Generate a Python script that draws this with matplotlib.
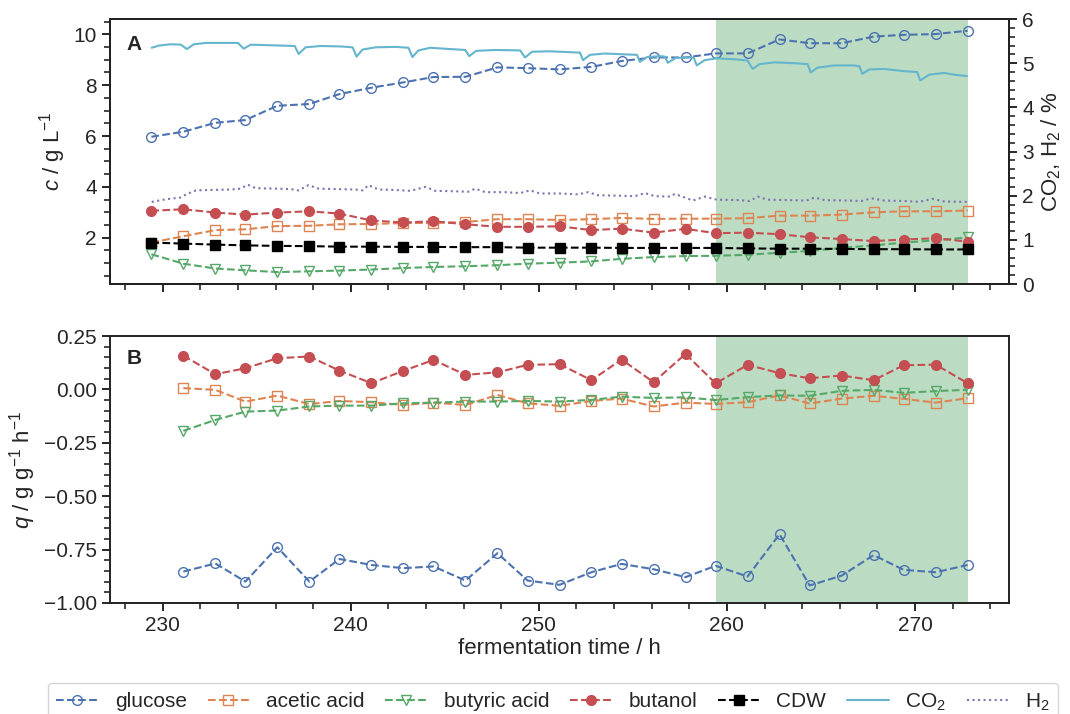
import matplotlib
matplotlib.use('Agg')
import matplotlib.pyplot as plt
import seaborn as sns
from matplotlib.ticker import AutoMinorLocator

sns.set_theme(style='ticks', palette='deep')
plt.rcParams['font.family'] = ['Liberation Sans', 'DejaVu Sans']
plt.rcParams['mathtext.fontset'] = 'custom'
plt.rcParams['mathtext.rm'] = 'Liberation Sans'
plt.rcParams['mathtext.it'] = 'Liberation Sans:italic'
plt.rcParams['mathtext.bf'] = 'Liberation Sans:bold'
plt.rcParams['axes.linewidth'] = 1.4
plt.rcParams['xtick.major.width'] = 1.4
plt.rcParams['ytick.major.width'] = 1.4
plt.rcParams['xtick.minor.width'] = 1.2
plt.rcParams['ytick.minor.width'] = 1.2
plt.rcParams['xtick.major.size'] = 6
plt.rcParams['ytick.major.size'] = 6
plt.rcParams['xtick.minor.size'] = 4
plt.rcParams['ytick.minor.size'] = 4
plt.rcParams['axes.edgecolor'] = '#222222'

pal = sns.color_palette('deep')

# sampling times (h)
t = [229.4, 231.1, 232.8, 234.4, 236.1, 237.8, 239.4, 241.1, 242.8, 244.4,
     246.1, 247.8, 249.4, 251.1, 252.8, 254.4, 256.1, 257.8, 259.4, 261.1,
     262.8, 264.4, 266.1, 267.8, 269.4, 271.1, 272.8]

# concentrations c (g/L)
glucose_c = [5.97, 6.17, 6.52, 6.63, 7.19, 7.26, 7.65, 7.90, 8.11, 8.32,
             8.33, 8.70, 8.67, 8.62, 8.72, 8.95, 9.09, 9.09, 9.25, 9.25,
             9.80, 9.65, 9.65, 9.91, 9.98, 10.01, 10.14]
acetic_c = [1.81, 2.06, 2.30, 2.33, 2.46, 2.47, 2.53, 2.54, 2.58, 2.58,
            2.62, 2.73, 2.73, 2.70, 2.73, 2.78, 2.74, 2.75, 2.75, 2.77,
            2.87, 2.87, 2.91, 3.00, 3.04, 3.04, 3.07]
butyric_c = [1.35, 0.98, 0.79, 0.72, 0.65, 0.68, 0.71, 0.75, 0.81, 0.85,
             0.88, 0.92, 0.98, 1.02, 1.07, 1.17, 1.24, 1.28, 1.29, 1.33,
             1.41, 1.48, 1.60, 1.70, 1.81, 1.90, 2.01]
butanol_c = [3.06, 3.12, 2.99, 2.91, 2.99, 3.04, 2.95, 2.68, 2.60, 2.65,
             2.53, 2.43, 2.43, 2.45, 2.30, 2.36, 2.20, 2.35, 2.18, 2.20,
             2.14, 2.02, 1.95, 1.87, 1.93, 1.98, 1.85]
cdw_c = [1.81, 1.77, 1.73, 1.70, 1.68, 1.67, 1.65, 1.65, 1.64, 1.64,
         1.63, 1.63, 1.61, 1.61, 1.61, 1.60, 1.60, 1.60, 1.60, 1.58,
         1.57, 1.57, 1.56, 1.55, 1.55, 1.54, 1.54]

# off-gas (%)
co2_t = [229.42, 229.80, 230.44, 230.97, 231.29, 231.66, 232.30, 233.09, 234.00, 234.31,
         234.68, 235.48, 236.28, 237.02, 237.23, 237.60, 238.40, 239.46, 240.10, 240.31,
         240.63, 241.32, 242.38, 243.07, 243.28, 243.60, 244.23, 245.30, 246.09, 246.30,
         246.67, 247.68, 249.01, 249.27, 249.64, 250.60, 251.66, 252.19, 252.35, 252.72,
         253.52, 254.58, 255.22, 255.37, 255.75, 256.44, 256.70, 256.86, 257.28, 258.03,
         258.24, 258.40, 258.82, 259.46, 260.41, 261.10, 261.37, 261.74, 262.54, 263.60,
         264.29, 264.45, 264.82, 265.72, 266.78, 267.05, 267.20, 267.58, 268.37, 269.43,
         270.12, 270.28, 270.76, 271.55, 272.08, 272.77]
co2 = [5.35, 5.40, 5.43, 5.42, 5.32, 5.43, 5.46, 5.46, 5.46, 5.33,
       5.42, 5.41, 5.40, 5.39, 5.21, 5.36, 5.39, 5.38, 5.36, 5.15,
       5.31, 5.36, 5.37, 5.35, 5.14, 5.29, 5.35, 5.32, 5.30, 5.16,
       5.28, 5.30, 5.29, 5.13, 5.26, 5.27, 5.25, 5.24, 5.07, 5.19,
       5.22, 5.20, 5.19, 5.03, 5.14, 5.16, 5.15, 5.01, 5.12, 5.13,
       5.12, 4.95, 5.07, 5.11, 5.09, 5.06, 4.87, 4.98, 5.02, 5.00,
       4.98, 4.79, 4.90, 4.95, 4.95, 4.93, 4.76, 4.86, 4.87, 4.82,
       4.80, 4.61, 4.74, 4.78, 4.74, 4.71]
h2_t = [229.42, 230.18, 230.97, 231.24, 231.77, 232.56, 233.62, 234.15, 234.53, 234.95,
        236.01, 236.81, 237.23, 237.76, 238.29, 239.19, 240.25, 240.63, 240.94, 241.48,
        242.38, 243.17, 243.97, 244.50, 245.56, 246.25, 246.62, 247.15, 248.21, 249.01,
        249.54, 250.07, 251.13, 252.09, 252.62, 253.15, 254.31, 255.11, 255.64, 256.17,
        256.97, 257.23, 257.76, 258.19, 258.82, 259.46, 260.68, 261.21, 261.63, 262.16,
        263.33, 264.23, 264.66, 265.19, 266.51, 267.15, 267.68, 268.37, 269.43, 270.23,
        270.92, 271.55, 272.77]
h2 = [1.86, 1.92, 1.96, 2.03, 2.12, 2.13, 2.14, 2.16, 2.25, 2.17,
      2.16, 2.15, 2.12, 2.24, 2.16, 2.15, 2.14, 2.12, 2.24, 2.14,
      2.13, 2.11, 2.20, 2.11, 2.10, 2.09, 2.16, 2.08, 2.08, 2.06,
      2.12, 2.05, 2.05, 2.03, 2.08, 2.01, 2.00, 1.99, 2.06, 1.99,
      1.98, 2.04, 1.96, 1.89, 1.98, 1.91, 1.90, 1.88, 1.98, 1.91,
      1.90, 1.89, 1.96, 1.90, 1.89, 1.88, 1.94, 1.89, 1.88, 1.86,
      1.93, 1.87, 1.86]

# specific rates q (g/g/h), from the second sample on
glucose_q = [-0.853, -0.815, -0.900, -0.739, -0.900, -0.794, -0.822, -0.837, -0.829,
             -0.895, -0.767, -0.895, -0.915, -0.856, -0.817, -0.842, -0.879, -0.826,
             -0.876, -0.678, -0.918, -0.872, -0.776, -0.845, -0.856, -0.822]
acetic_q = [0.006, -0.002, -0.057, -0.029, -0.069, -0.054, -0.060, -0.073, -0.062,
            -0.073, -0.026, -0.065, -0.077, -0.054, -0.043, -0.080, -0.062, -0.068,
            -0.060, -0.028, -0.066, -0.043, -0.030, -0.044, -0.062, -0.041]
butyric_q = [-0.194, -0.143, -0.104, -0.099, -0.080, -0.076, -0.076, -0.065, -0.062,
             -0.057, -0.057, -0.054, -0.057, -0.049, -0.034, -0.040, -0.037, -0.050,
             -0.036, -0.028, -0.030, -0.007, -0.002, -0.016, -0.008, -0.002]
butanol_q = [0.158, 0.071, 0.099, 0.146, 0.154, 0.088, 0.029, 0.087, 0.138,
             0.068, 0.080, 0.115, 0.118, 0.043, 0.140, 0.034, 0.166, 0.028,
             0.115, 0.076, 0.052, 0.065, 0.043, 0.113, 0.116, 0.029]

phase_start, phase_end = 259.4, 272.8

fs = 15
fig = plt.figure(figsize=(10.7, 7.14), dpi=100)
ax1 = fig.add_axes([0.1028, 0.6022, 0.8402, 0.3711])
ax2 = fig.add_axes([0.1028, 0.1555, 0.8402, 0.3739], sharex=ax1)
ax1r = ax1.twinx()

mk = dict(markersize=7, linestyle='--', linewidth=1.5)

# --- A: concentrations
ax1.axvspan(phase_start, phase_end, color=pal[2], alpha=0.4, lw=0, zorder=0)
ax1.plot(t, glucose_c, marker='o', mfc='none', color=pal[0], label='glucose', **mk)
ax1.plot(t, acetic_c, marker='s', mfc='none', color=pal[1], label='acetic acid', **mk)
ax1.plot(t, butyric_c, marker='v', mfc='none', color=pal[2], label='butyric acid', **mk)
ax1.plot(t, butanol_c, marker='o', color=pal[3], label='butanol', **mk)
ax1.plot(t, cdw_c, marker='s', color='black', label='CDW', **mk)
ax1r.plot(co2_t, co2, '-', color=pal[9], lw=1.5, label='CO$_2$')
ax1r.plot(h2_t, h2, ':', color=pal[4], lw=1.5, label='H$_2$')

ax1.set_ylim(0.18, 10.6)
ax1r.set_ylim(0, 6)
ax1.set_ylabel('$c$ / g L$^{-1}$', fontsize=fs + 1)
ax1r.set_ylabel('CO$_2$, H$_2$ / %', fontsize=fs + 1)
ax1.text(0.018, 0.905, 'A', transform=ax1.transAxes, fontsize=fs, fontweight='bold',
         va='center', ha='left')
plt.setp(ax1.get_xticklabels(), visible=False)

# --- B: specific rates
ax2.axvspan(phase_start, phase_end, color=pal[2], alpha=0.4, lw=0, zorder=0)
ax2.plot(t[1:], glucose_q, marker='o', mfc='none', color=pal[0], **mk)
ax2.plot(t[1:], acetic_q, marker='s', mfc='none', color=pal[1], **mk)
ax2.plot(t[1:], butyric_q, marker='v', mfc='none', color=pal[2], **mk)
ax2.plot(t[1:], butanol_q, marker='o', color=pal[3], **mk)
ax2.set_ylim(-1.0, 0.25)
ax2.set_yticks([-1.0, -0.75, -0.5, -0.25, 0.0, 0.25])
ax2.set_ylabel('$q$ / g g$^{-1}$ h$^{-1}$', fontsize=fs + 1)
ax2.set_xlabel('fermentation time / h', fontsize=fs + 1, labelpad=2)
ax2.text(0.018, 0.915, 'B', transform=ax2.transAxes, fontsize=fs, fontweight='bold',
         va='center', ha='left')
ax2.set_xlim(227.2, 275.0)

for a in (ax1, ax1r, ax2):
    a.xaxis.set_minor_locator(AutoMinorLocator())
    a.yaxis.set_minor_locator(AutoMinorLocator())
    a.tick_params(labelsize=fs)

h1, l1 = ax1.get_legend_handles_labels()
h2_, l2 = ax1r.get_legend_handles_labels()
fig.legend(h1 + h2_, l1 + l2, loc='upper center', bbox_to_anchor=(0.517, 0.058),
           ncol=7, fontsize=fs, frameon=True, columnspacing=1.0, handletextpad=0.8)

fig.savefig('out.png', dpi=100)
